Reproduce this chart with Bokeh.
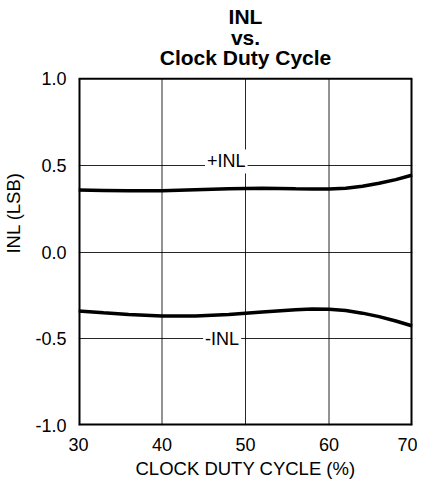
from bokeh.plotting import figure
from bokeh.models import Label, Range1d, FixedTicker, CustomJSTickFormatter
from bokeh.embed import file_html
from bokeh.resources import INLINE

duty = [30, 33, 36, 40, 44, 48, 52, 56, 58, 60, 62, 64, 66, 68, 70]
inl_pos = [0.358, 0.356, 0.354, 0.354, 0.360, 0.366, 0.368, 0.365, 0.364, 0.364, 0.369, 0.380, 0.397, 0.418, 0.445]
inl_neg = [-0.339, -0.350, -0.360, -0.368, -0.369, -0.360, -0.345, -0.332, -0.328, -0.329, -0.337, -0.352, -0.372, -0.397, -0.426]
x_ticks = [30, 40, 50, 60, 70]
y_ticks = [-1.0, -0.5, 0.0, 0.5, 1.0]
title_lines = ["INL", "vs.", "Clock Duty Cycle"]
series_labels = ["+INL", "-INL"]
label_x = [47.7, 47.2]
label_y = [0.5, -0.5]

FONT = "Liberation Sans"

# layout (pixels)
W, H = 417, 481
TOP_BOX = 79          # pixel row of y = 1.0 inside the figure
BOTTOM_BORDER = 52
frame_h = H - BOTTOM_BORDER
ppu = (frame_h - TOP_BOX) / 2.0
y_top = 1.0 + TOP_BOX / ppu
title_offsets = [62, 41, 21]
label_offsets = [4, 0]

p = figure(width=W, height=H, output_backend="svg", toolbar_location=None,
           x_range=Range1d(30, 70), y_range=Range1d(-1.0, y_top),
           min_border_left=75, min_border_right=5, min_border_bottom=BOTTOM_BORDER,
           min_border_top=0)
p.outline_line_color = None

p.xaxis.ticker = FixedTicker(ticks=x_ticks)
p.yaxis.ticker = FixedTicker(ticks=y_ticks)
p.yaxis.bounds = (y_ticks[0], y_ticks[-1])
p.yaxis.formatter = CustomJSTickFormatter(code="return tick.toFixed(1);")
for ax in (p.xaxis, p.yaxis):
    ax.axis_line_color = None
    ax.major_tick_line_color = None
    ax.minor_tick_line_color = None
    ax.major_label_text_font = FONT
    ax.major_label_text_font_size = "18px"
    ax.major_label_text_color = "black"
    ax.axis_label_text_font = FONT
    ax.axis_label_text_font_size = "18.5px"
    ax.axis_label_text_font_style = "normal"
    ax.axis_label_text_color = "black"
p.xaxis.axis_label = "CLOCK DUTY CYCLE (%)"
p.yaxis.axis_label = "INL (LSB)"
p.xaxis.major_label_standoff = 6
p.yaxis.major_label_standoff = 6
p.xaxis.axis_label_standoff = 4
p.yaxis.axis_label_standoff = 8

p.xgrid.visible = False
p.ygrid.ticker = FixedTicker(ticks=y_ticks)
p.ygrid.grid_line_color = "black"
p.ygrid.grid_line_width = 1
p.ygrid.grid_line_alpha = 0.85

# vertical grid lines, only inside the box
inner_x = x_ticks[1:-1]
p.segment(x0=inner_x, y0=[y_ticks[0]] * len(inner_x), x1=inner_x, y1=[y_ticks[-1]] * len(inner_x),
          line_color="black", line_width=1, line_alpha=0.85)

# plot box: sides on the frame edges (half clipped), top edge inside the frame
p.segment(x0=[x_ticks[0], x_ticks[-1], x_ticks[0]], y0=[y_ticks[0], y_ticks[0], y_ticks[0]],
          x1=[x_ticks[0], x_ticks[-1], x_ticks[-1]], y1=[y_ticks[-1], y_ticks[-1], y_ticks[0]],
          line_color="black", line_width=4)
p.segment(x0=[x_ticks[0]], y0=[y_ticks[-1]], x1=[x_ticks[-1]], y1=[y_ticks[-1]],
          line_color="black", line_width=2)

p.line(duty, inl_pos, line_color="black", line_width=3.5)
p.line(duty, inl_neg, line_color="black", line_width=3.5)

for txt, off in zip(title_lines, title_offsets):
    p.add_layout(Label(x=50, y=1.0, y_offset=off, text=txt, text_align="center",
                       text_baseline="alphabetic", text_font=FONT, text_font_size="21px",
                       text_font_style="bold", text_color="black"))

for txt, lx, ly, off in zip(series_labels, label_x, label_y, label_offsets):
    p.add_layout(Label(x=lx, y=ly, y_offset=off, text=txt, text_align="center",
                       text_baseline="middle", text_font=FONT, text_font_size="18px",
                       text_color="black", background_fill_color="white", padding=2))

open("out.html", "w").write(file_html(p, INLINE))
